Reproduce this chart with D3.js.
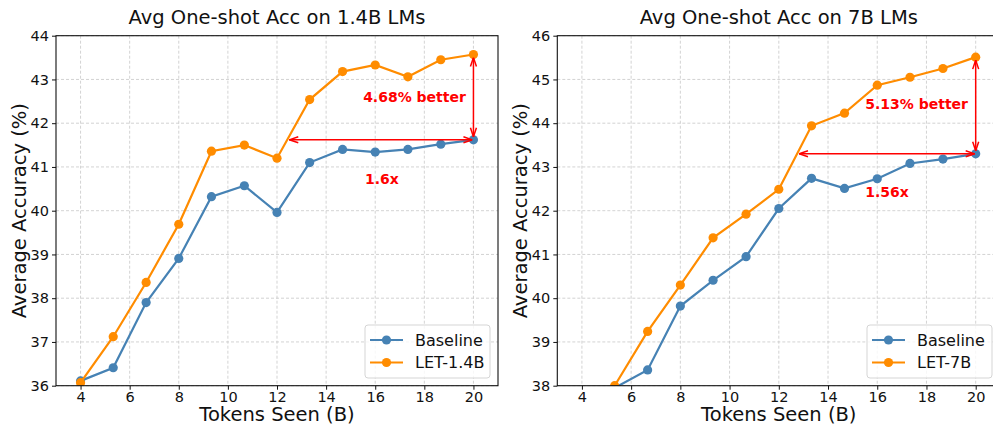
<!DOCTYPE html>
<html>
<head>
<meta charset="utf-8">
<script src="https://cdn.jsdelivr.net/npm/d3@7"></script>
<style>
  body { margin: 0; background: #fff; overflow: hidden; }
  svg { font-family: "DejaVu Sans", sans-serif; display: block; }
</style>
</head>
<body>
<div id="chart"></div>
<script>
const tokens = [4, 5.33, 6.67, 8, 9.33, 10.67, 12, 13.33, 14.67, 16, 17.33, 18.67, 20];
const xTicks = [4, 6, 8, 10, 12, 14, 16, 18, 20];

const base14 = [36.11, 36.41, 37.90, 38.91, 40.32, 40.57, 39.96, 41.10, 41.40, 41.34, 41.40, 41.52, 41.62];
const let14 = [36.07, 37.12, 38.36, 39.69, 41.36, 41.50, 41.20, 42.54, 43.18, 43.33, 43.06, 43.45, 43.57];

const base7 = [37.50, 37.95, 38.36, 39.82, 40.41, 40.95, 42.05, 42.74, 42.51, 42.73, 43.08, 43.18, 43.30];
const let7 = [37.20, 38.00, 39.24, 40.30, 41.38, 41.92, 42.49, 43.94, 44.23, 44.87, 45.05, 45.25, 45.51];

const panels = [
    {
        title: "Avg One-shot Acc on 1.4B LMs", left: 56, right: 498,
        yDomain: [36, 44], base: base14, ours: let14, oursName: "LET-1.4B",
        speedup: "1.6x", gain: "4.68% better", arrowFrom: 12.5,
        gainPos: [17.6, 42.6], speedPos: [16.27, 40.72], legendX: 365
    },
    {
        title: "Avg One-shot Acc on 7B LMs", left: 557.3, right: 1000.3,
        yDomain: [38, 46], base: base7, ours: let7, oursName: "LET-7B",
        speedup: "1.56x", gain: "5.13% better", arrowFrom: 12.82,
        gainPos: [17.6, 44.43], speedPos: [16.4, 42.42], legendX: 867
    }
];

const W = 993, H = 425;
const plotTop = 35.7, plotBottom = 385.7;
const blue = "#4682b4", orange = "#ff8c00";

const svg = d3.select("#chart")
    .append("svg")
    .attr("width", W)
    .attr("height", H);

const defs = svg.append("defs");
defs.append("marker")
    .attr("id", "head")
    .attr("viewBox", "0 0 10 10")
    .attr("refX", 10).attr("refY", 5)
    .attr("markerWidth", 10).attr("markerHeight", 10)
    .attr("markerUnits", "userSpaceOnUse")
    .attr("orient", "auto-start-reverse")
    .append("path")
    .attr("d", "M1,2 L10,5 L1,8")
    .attr("fill", "none")
    .attr("stroke", "red")
    .attr("stroke-width", 1.5);

panels.forEach((p, k) => {
    const x = d3.scaleLinear().domain([3, 21]).range([p.left, p.right]);
    const y = d3.scaleLinear().domain(p.yDomain).range([plotBottom, plotTop]);
    const yTicks = d3.range(p.yDomain[0], p.yDomain[1] + 1);

    const g = svg.append("g");

    defs.append("clipPath").attr("id", "clip" + k)
        .append("rect")
        .attr("x", p.left).attr("y", plotTop)
        .attr("width", p.right - p.left).attr("height", plotBottom - plotTop);

    // grid
    g.append("g").selectAll("line").data(xTicks).join("line")
        .attr("x1", d => x(d)).attr("x2", d => x(d))
        .attr("y1", plotTop).attr("y2", plotBottom)
        .attr("stroke", "#c8c8c8").attr("stroke-width", 0.8)
        .attr("stroke-dasharray", "3,2");
    g.append("g").selectAll("line").data(yTicks).join("line")
        .attr("x1", p.left).attr("x2", p.right)
        .attr("y1", d => y(d)).attr("y2", d => y(d))
        .attr("stroke", "#c8c8c8").attr("stroke-width", 0.8)
        .attr("stroke-dasharray", "3,2");

    // axes
    const xAxis = g.append("g")
        .attr("transform", `translate(0,${plotBottom})`)
        .call(d3.axisBottom(x).tickValues(xTicks).tickSize(4).tickPadding(2));
    const yAxis = g.append("g")
        .attr("transform", `translate(${p.left},0)`)
        .call(d3.axisLeft(y).tickValues(yTicks).tickSize(4).tickPadding(3));
    [xAxis, yAxis].forEach(a => {
        a.select(".domain").remove();
        a.selectAll("text").attr("font-size", 14.5).attr("fill", "#111")
            .attr("font-family", "DejaVu Sans");
        a.selectAll("line").attr("stroke", "#111");
    });

    // series
    const plot = g.append("g").attr("clip-path", `url(#clip${k})`);
    const line = d3.line().x((d, i) => x(tokens[i])).y(d => y(d));
    [[p.base, blue], [p.ours, orange]].forEach(([vals, c]) => {
        plot.append("path").datum(vals)
            .attr("d", line)
            .attr("fill", "none").attr("stroke", c).attr("stroke-width", 2.2);
        plot.append("g").selectAll("circle").data(vals).join("circle")
            .attr("cx", (d, i) => x(tokens[i])).attr("cy", d => y(d))
            .attr("r", 4.6).attr("fill", c);
    });

    // frame
    g.append("rect")
        .attr("x", p.left).attr("y", plotTop)
        .attr("width", p.right - p.left).attr("height", plotBottom - plotTop)
        .attr("fill", "none").attr("stroke", "#111").attr("stroke-width", 1.1);

    // annotations
    const last = tokens.length - 1;
    g.append("line")
        .attr("x1", x(p.arrowFrom)).attr("x2", x(tokens[last]) - 1)
        .attr("y1", y(p.base[last])).attr("y2", y(p.base[last]))
        .attr("stroke", "red").attr("stroke-width", 1.5)
        .attr("marker-start", "url(#head)").attr("marker-end", "url(#head)");
    g.append("line")
        .attr("x1", x(tokens[last])).attr("x2", x(tokens[last]))
        .attr("y1", y(p.base[last]) - 3).attr("y2", y(p.ours[last]) + 3)
        .attr("stroke", "red").attr("stroke-width", 1.5)
        .attr("marker-start", "url(#head)").attr("marker-end", "url(#head)");
    g.append("text")
        .attr("x", x(p.gainPos[0])).attr("y", y(p.gainPos[1]))
        .attr("text-anchor", "middle").attr("dominant-baseline", "central")
        .attr("font-size", 14).attr("font-weight", "bold").attr("fill", "red")
        .text(p.gain);
    g.append("text")
        .attr("x", x(p.speedPos[0])).attr("y", y(p.speedPos[1]))
        .attr("text-anchor", "middle").attr("dominant-baseline", "central")
        .attr("font-size", 14).attr("font-weight", "bold").attr("fill", "red")
        .text(p.speedup);

    // titles
    g.append("text")
        .attr("x", (p.left + p.right) / 2).attr("y", 24)
        .attr("text-anchor", "middle").attr("font-size", 19.5).attr("fill", "#111")
        .text(p.title);
    g.append("text")
        .attr("x", (p.left + p.right) / 2).attr("y", 421)
        .attr("text-anchor", "middle").attr("font-size", 19.5).attr("fill", "#111")
        .text("Tokens Seen (B)");
    g.append("text")
        .attr("transform", `translate(${p.left - 30},${(plotTop + plotBottom) / 2}) rotate(-90)`)
        .attr("text-anchor", "middle").attr("font-size", 19.5).attr("fill", "#111")
        .text("Average Accuracy (%)");

    // legend
    const lg = g.append("g").attr("transform", `translate(${p.legendX},325)`);
    lg.append("rect")
        .attr("width", 125).attr("height", 53).attr("rx", 3)
        .attr("fill", "#fff").attr("fill-opacity", 0.8)
        .attr("stroke", "#d5d5d5");
    [["Baseline", blue], [p.oursName, orange]].forEach(([name, c], i) => {
        const ly = 15 + i * 22.5;
        lg.append("line").attr("x1", 5).attr("x2", 38).attr("y1", ly).attr("y2", ly)
            .attr("stroke", c).attr("stroke-width", 2.2);
        lg.append("circle").attr("cx", 21.5).attr("cy", ly).attr("r", 4.6).attr("fill", c);
        lg.append("text").attr("x", 50).attr("y", ly)
            .attr("dominant-baseline", "central").attr("font-size", 16).attr("fill", "#111")
            .text(name);
    });
});
</script>
</body>
</html>
